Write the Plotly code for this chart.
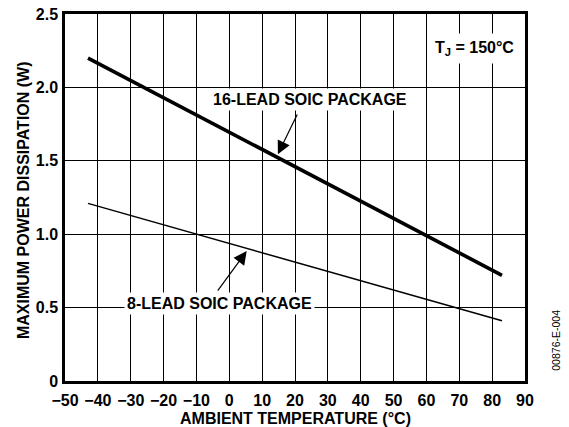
import plotly.graph_objects as go

# Data
temp_16 = [-43, 83]
power_16 = [2.20, 0.72]
temp_8 = [-43, 83]
power_8 = [1.21, 0.41]

x_ticks = [-50, -40, -30, -20, -10, 0, 10, 20, 30, 40, 50, 60, 70, 80, 90]
x_ticktext = ["\u221250", "\u221240", "\u221230", "\u221220", "\u221210", "0", "10", "20",
              "30", "40", "50", "60", "70", "80", "90"]
y_ticks = [0, 0.5, 1.0, 1.5, 2.0, 2.5]
y_ticktext = ["0", "0.5", "1.0", "1.5", "2.0", "2.5"]

FONT = "Liberation Sans, Arial, Helvetica, sans-serif"

fig = go.Figure()
fig.add_trace(go.Scatter(x=temp_16, y=power_16, mode="lines",
                         line=dict(color="black", width=3.6), showlegend=False,
                         hoverinfo="skip"))
fig.add_trace(go.Scatter(x=temp_8, y=power_8, mode="lines",
                         line=dict(color="black", width=1.5), showlegend=False,
                         hoverinfo="skip"))

ann_font = dict(family=FONT, size=16, color="black", weight="bold")

annotations = [
    dict(x=24.6, y=1.92, xref="x", yref="y", text="16-LEAD SOIC PACKAGE",
         showarrow=False, font=ann_font, bgcolor="white", borderpad=2),
    dict(x=-3.1, y=0.525, xref="x", yref="y", text="8-LEAD SOIC PACKAGE",
         showarrow=False, font=ann_font, bgcolor="white", borderpad=2),
    dict(x=74.6, y=2.265, xref="x", yref="y", text="T<sub>J</sub> = 150°C",
         showarrow=False, font=ann_font, bgcolor="white", borderpad=5),
    # arrows
    dict(x=14.8, y=1.545, xref="x", yref="y", ax=20.9, ay=1.826, axref="x", ayref="y",
         text="", showarrow=True, arrowhead=2, arrowsize=2.2, arrowwidth=1.2,
         arrowcolor="black", standoff=0),
    dict(x=5.3, y=0.885, xref="x", yref="y", ax=-3.85, ay=0.606, axref="x", ayref="y",
         text="", showarrow=True, arrowhead=2, arrowsize=2.2, arrowwidth=1.2,
         arrowcolor="black", standoff=0),
    # axis titles
    dict(x=0.5, y=-0.101, xref="paper", yref="paper", text="AMBIENT TEMPERATURE (°C)",
         xanchor="center", yanchor="middle", showarrow=False, font=ann_font),
    dict(x=-0.0913, y=0.493, xref="paper", yref="paper",
         text="MAXIMUM POWER DISSIPATION (W)", textangle=-90,
         xanchor="center", yanchor="middle", showarrow=False, font=ann_font),
    dict(x=1.067, y=0.112, xref="paper", yref="paper", text="00876-E-004",
         xanchor="center", yanchor="middle",
         showarrow=False, textangle=-90,
         font=dict(family=FONT, size=10.5, color="black")),
]

fig.update_layout(
    width=569, height=427,
    margin=dict(l=65, r=44, t=14, b=46, autoexpand=False),
    paper_bgcolor="white", plot_bgcolor="white",
    annotations=annotations,
    font=dict(family=FONT, color="black"),
)

fig.update_xaxes(
    range=[-50, 90], tickvals=x_ticks, ticktext=x_ticktext,
    tickfont=dict(family=FONT, size=16, color="black", weight="bold"),
    showgrid=True, gridcolor="black", gridwidth=1.3,
    showline=True, linecolor="black", linewidth=2.5, mirror=True,
    zeroline=False, ticks="", ticklabelstandoff=3, automargin=False,
)
fig.update_yaxes(
    range=[0, 2.5], tickvals=y_ticks, ticktext=y_ticktext,
    tickfont=dict(family=FONT, size=16, color="black", weight="bold"),
    showgrid=True, gridcolor="black", gridwidth=1.3,
    showline=True, linecolor="black", linewidth=2.5, mirror=True,
    zeroline=False, ticks="", ticklabelstandoff=1, automargin=False,
)

fig.write_html("out.html", config={"displayModeBar": False},
               post_script="document.body.style.margin='0';document.body.style.padding='0';")
